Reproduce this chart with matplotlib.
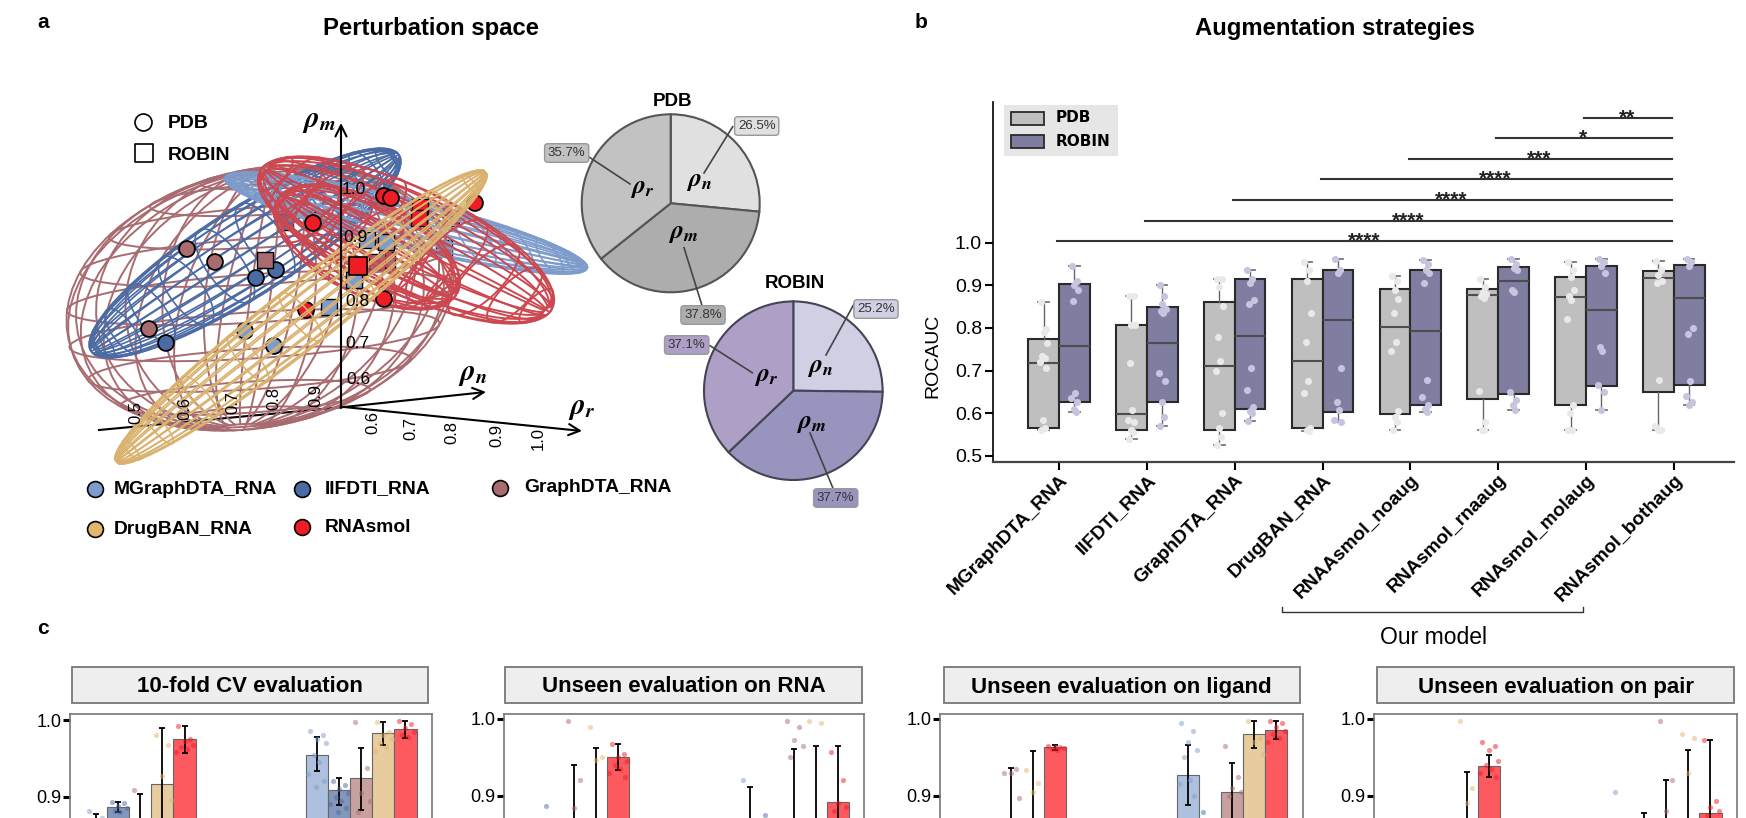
import numpy as np
import matplotlib
matplotlib.use("Agg")
import matplotlib.pyplot as plt
from matplotlib.patches import Rectangle

plt.rcParams['font.family'] = ['Liberation Sans', 'DejaVu Sans']
plt.rcParams['mathtext.fontset'] = 'stix'

W, H = 1746, 818

# panel a: ellipsoids, read in figure pixels: centre, two side axes, then the pole axis
models = ['MGraphDTA_RNA', 'IIFDTI_RNA', 'GraphDTA_RNA', 'DrugBAN_RNA', 'RNAsmol']
model_colors = ['#7d9ccb', '#4b6ba5', '#a86b70', '#e3b66f', '#ee1c25']
ell_brown = [(260, 298), (191, -16), (19, -130), (30, 22)]
ell_dark = [(245, 253), (26, 36), (153, -98), (-15, 10)]
ell_light = [(406, 223), (-20, -28), (180, 42), (10, -8)]
ell_red1 = [(406, 240), (40, -40), (142, 72), (15, 15)]
ell_red2 = [(367, 247), (35, -35), (85, 50), (15, 15)]
ell_tan = [(301, 317), (20, 24), (185, -145), (8, -5)]

# points of panel a
circ_x = [187, 215, 149, 256, 276, 166, 245, 274, 384, 391, 475, 384, 306, 313]
circ_y = [249, 262, 329, 278, 270, 343, 331, 346, 196, 198, 203, 299, 310, 223]
circ_c = [2, 2, 2, 1, 1, 1, 0, 0, 4, 4, 4, 4, 4, 4]
sq_x = [265, 420, 419, 329, 354, 367, 386]
sq_y = [260, 207, 218, 307, 280, 240, 242]
sq_c = [2, 4, 4, 0, 0, 0, 0]
# squares that the wire frames cover
under_x = [285, 312, 359, 451, 387, 444, 377]
under_y = [222, 220, 266, 218, 260, 248, 262]
under_c = [2, 2, 4, 4, 2, 2, 2]
top_x = [358]
top_y = [266]

pie_pdb = [26.5, 37.8, 35.7]
pie_robin = [25.2, 37.7, 37.1]
pie_pdb_colors = ['#e0e0e0', '#adadad', '#c2c2c2']
pie_robin_colors = ['#cfd0e3', '#9794bd', '#ae9fc6']

# panel b
box_names = ['MGraphDTA_RNA', 'IIFDTI_RNA', 'GraphDTA_RNA', 'DrugBAN_RNA',
             'RNAAsmol_noaug', 'RNAsmol_rnaaug', 'RNAsmol_molaug', 'RNAsmol_bothaug']
pdb_q1 = [.565, .56, .56, .565, .598, .633, .618, .65]
pdb_med = [.718, .598, .71, .722, .801, .877, .872, .918]
pdb_q3 = [.775, .808, .861, .916, .891, .891, .92, .933]
pdb_lo = [.56, .54, .525, .558, .56, .56, .56, .56]
pdb_hi = [.862, .875, .915, .955, .922, .916, .955, .958]
rob_q1 = [.625, .625, .61, .602, .618, .645, .664, .665]
rob_med = [.757, .764, .781, .819, .792, .911, .843, .87]
rob_q3 = [.904, .85, .914, .936, .936, .943, .945, .948]
rob_lo = [.602, .57, .582, .58, .602, .608, .608, .62]
rob_hi = [.945, .9, .935, .962, .96, .962, .962, .962]
pdb_pts = [[.862, .798, .79, .765, .735, .73, .72, .705, .585, .565, .56],
           [.875, .875, .808, .808, .718, .607, .585, .58, .56, .555, .54],
           [.915, .915, .895, .851, .778, .722, .698, .6, .565, .545, .525],
           [.955, .935, .91, .836, .766, .675, .648, .565, .56, .558],
           [.922, .91, .89, .867, .834, .767, .745, .605, .59, .58, .56],
           [.916, .895, .885, .88, .875, .87, .652, .58, .56, .56],
           [.955, .935, .92, .89, .875, .865, .82, .62, .6, .56, .56],
           [.958, .935, .925, .91, .905, .677, .57, .56, .56]]
rob_pts = [[.945, .91, .9, .89, .864, .648, .635, .625, .61, .602],
           [.9, .875, .855, .845, .84, .835, .695, .675, .625, .59, .57],
           [.935, .915, .905, .865, .855, .705, .655, .615, .605, .6, .582],
           [.962, .935, .93, .705, .625, .607, .585, .58],
           [.96, .95, .935, .93, .905, .678, .638, .62, .61, .602],
           [.962, .95, .94, .935, .89, .885, .65, .63, .62, .608],
           [.962, .955, .945, .93, .755, .745, .665, .65, .608],
           [.962, .955, .945, .8, .785, .675, .64, .625, .62]]
sig_y = [1.003, 1.052, 1.1, 1.149, 1.196, 1.245, 1.293]
sig_txt = ['****', '****', '****', '****', '***', '*', '**']

# panel c: two groups of five bars, cut by the lower edge of the picture
c_titles = ['10-fold CV evaluation', 'Unseen evaluation on RNA',
            'Unseen evaluation on ligand', 'Unseen evaluation on pair']
c_means = [[[.855, .887, .84, .917, .975], [.955, .909, .924, .983, .988]],
           [[.80, .82, .85, .86, .951], [.85, .82, .86, .87, .892]],
           [[.80, .80, .85, .86, .963], [.927, .85, .905, .98, .986]],
           [[.78, .80, .80, .85, .939], [.80, .84, .85, .87, .877]]]
c_hi = [[[.877, .893, .904, .989, .992], [.978, .924, .964, .998, .999]],
        [[.86, .85, .94, .962, .968], [.911, .86, .961, .965, .965]],
        [[.85, .85, .936, .958, .966], [.966, .87, .943, .997, .998]],
        [[.84, .86, .86, .931, .953], [.86, .878, .92, .96, .973]]]
c_lo = [[[.83, .88, .78, .85, .957], [.933, .889, .883, .967, .977]],
        [[.74, .79, .76, .76, .934], [.79, .78, .76, .77, .82]],
        [[.75, .75, .76, .76, .960], [.888, .83, .867, .962, .974]],
        [[.72, .74, .74, .77, .925], [.74, .80, .78, .78, .78]]]
c_pts = [[[[.881, .872], [.893, .892, .888, .885, .882, .88], [.909], [.98, .967, .927, .896],
           [.992, .975, .972, .968, .965, .962, .958]],
          [[.986, .98, .975, .97, .955, .945, .93, .92, .912], [.92, .915, .91, .905, .9, .895, .89, .885, .88],
           [.998, .938, .905, .895, .88], [.998, .985, .98, .975, .97, .965, .96],
           [.999, .995, .99, .985, .98, .978]]],
         [[[], [.886], [.997, .92, .884], [.99, .951, .947], [.968, .955, .95, .945, .94, .935, .93, .925]],
          [[.92], [.875], [.997, .99, .972, .965, .951], [.997, .995], [.957, .92, .89, .885, .88]]],
         [[[], [], [.93, .935, .93, .897], [.933, .916, .905], [.965, .964, .963, .962, .961, .96]],
          [[.995, .985, .97, .96, .95, .92, .915, .9], [.879], [.965, .925, .91, .905, .9],
           [.998, .975, .97, .955], [.998, .995, .99, .985, .98, .975, .97]]],
         [[[], [], [], [.998, .91, .89], [.97, .965, .96, .945, .94, .935, .93, .925]],
          [[.905], [], [.998, .92, .88], [.98, .975, .93], [.973, .893, .885, .88, .875]]]]
c_bar_colors = ['#adc1df', '#8497bb', '#c9a0a0', '#e8cb9e', '#fd5a60']
c_pt_colors = ['#7d9ccb', '#4b6ba5', '#a86b70', '#e3b66f', '#ee1c25']
jitter = [-.3, .25, 0, .4, -.15, .1, -.4, .3, -.05, .18, -.25]


def px_axes(fig, left, top, right, bottom):
    return fig.add_axes([left / W, 1 - bottom / H, (right - left) / W, (bottom - top) / H])


def wire(ax, ell, color, z, lw=1.2, n_lat=13, n_lon=22):
    c, a, b, d = [np.array(v, dtype=float) for v in ell]
    for t in np.linspace(0.12, np.pi - 0.12, n_lat):
        p = np.linspace(0, 2 * np.pi, 50)
        xy = np.outer(np.sin(t) * np.cos(p), a) + np.outer(np.sin(t) * np.sin(p), d) + np.outer(np.cos(t) * np.ones(50), b)
        ax.plot(c[0] + xy[:, 0], c[1] + xy[:, 1], color=color, lw=lw, zorder=z)
    for p in np.linspace(0, 2 * np.pi, n_lon, endpoint=False):
        t = np.linspace(0.12, np.pi - 0.12, 30)
        xy = np.outer(np.sin(t) * np.cos(p), a) + np.outer(np.sin(t) * np.sin(p), d) + np.outer(np.cos(t), b)
        ax.plot(c[0] + xy[:, 0], c[1] + xy[:, 1], color=color, lw=lw, zorder=z)


def rho(s):
    return r'$\boldsymbol{\rho}_{\boldsymbol{%s}}$' % s


fig = plt.figure(figsize=(W / 100, H / 100), dpi=100)
ov = fig.add_axes([0, 0, 1, 1])
ov.set_xlim(0, W)
ov.set_ylim(H, 0)
ov.axis('off')

ov.text(43, 22, 'a', fontsize=15, fontweight='bold', ha='center', va='center')
ov.text(921, 22, 'b', fontsize=15, fontweight='bold', ha='center', va='center')
ov.text(43, 628, 'c', fontsize=15, fontweight='bold', ha='center', va='center')
ov.text(431, 29, 'Perturbation space', fontsize=17.2, fontweight='bold', ha='center', va='center')
ov.text(1335, 29, 'Augmentation strategies', fontsize=17.2, fontweight='bold', ha='center', va='center')

# panel a
ov.scatter(under_x, under_y, s=130, marker='s', c=[model_colors[i] for i in under_c], edgecolors='k', linewidths=1.0, zorder=1.5)
wire(ov, ell_brown, '#a86b70', 2, lw=1.4, n_lat=11, n_lon=26)
wire(ov, ell_dark, '#4b6ba5', 2, n_lat=12, n_lon=24)
wire(ov, ell_light, '#7d9ccb', 2, n_lat=12, n_lon=24)
wire(ov, ell_red1, '#cc4750', 2, lw=1.4, n_lat=11, n_lon=18)
wire(ov, ell_red2, '#cc4750', 2, lw=1.4, n_lat=9, n_lon=16)
ov.scatter(circ_x, circ_y, s=130, c=[model_colors[i] for i in circ_c], edgecolors='k', linewidths=1.3, zorder=3)
ov.scatter(sq_x, sq_y, s=130, marker='s', c=[model_colors[i] for i in sq_c], edgecolors='k', linewidths=1.0, zorder=3)
wire(ov, ell_tan, '#d9b26f', 4, n_lat=11, n_lon=20)
ov.scatter(top_x, top_y, s=170, marker='s', c='#ee1c25', edgecolors='k', linewidths=1.2, zorder=5)

arrow = dict(arrowstyle='->', color='k', lw=1.5, mutation_scale=20, shrinkA=0, shrinkB=0)
ov.annotate('', xy=(341, 123), xytext=(341, 408), arrowprops=arrow, zorder=6)
ov.annotate('', xy=(486, 392), xytext=(344, 407), arrowprops=arrow, zorder=6)
ov.annotate('', xy=(582, 431), xytext=(344, 407), arrowprops=arrow, zorder=6)
ov.plot([99, 344], [430, 407], color='k', lw=1.5, zorder=1)
for s, x, y in zip(['0.5', '0.6', '0.7', '0.8', '0.9'], [136, 185, 233, 274, 316], [413, 408, 402, 398, 395]):
    ov.text(x, y, s, fontsize=12, rotation=90, ha='center', va='center', zorder=7)
for s, x, y in zip(['0.6', '0.7', '0.8', '0.9', '1.0'], [373, 411, 452, 497, 538], [423, 428, 432, 435, 438]):
    ov.text(x, y, s, fontsize=12, rotation=90, ha='center', va='center', zorder=7)
for s, x, y in zip(['0.6', '0.7', '0.8', '0.9', '1.0'], [358, 357, 357, 356, 354], [380, 343, 302, 238, 190]):
    ov.text(x, y, s, fontsize=12.5, ha='center', va='center', zorder=7)
ov.text(319, 121, rho('m'), fontsize=21, ha='center', va='center')
ov.text(473, 374, rho('n'), fontsize=21, ha='center', va='center')
ov.text(582, 408, rho('r'), fontsize=21, ha='center', va='center')

ov.scatter([142.5], [122], s=150, facecolors='white', edgecolors='k', linewidths=1.2)
ov.scatter([143.5], [153], s=150, marker='s', facecolors='white', edgecolors='k', linewidths=1.2)
ov.text(168, 123, 'PDB', fontsize=14, fontweight='bold', va='center')
ov.text(168, 155, 'ROBIN', fontsize=14, fontweight='bold', va='center')

leg_x = [95, 302, 500, 95, 302]
leg_y = [489, 489, 488, 529, 527]
leg_tx = [114, 325, 524, 114, 325]
for i, x, y, tx in zip(range(5), leg_x, leg_y, leg_tx):
    ov.scatter([x], [y], s=130, c=model_colors[i], edgecolors='k', linewidths=1.2)
    ov.text(tx, y, models[i], fontsize=13.9, fontweight='bold', va='center')

# pies of panel a
for vals, cols, cx, cy, r, title, ty, edge in [
        (pie_pdb, pie_pdb_colors, 670.7, 203.3, 89, 'PDB', 101, '#555555'),
        (pie_robin, pie_robin_colors, 793.3, 390.7, 89.3, 'ROBIN', 283, '#444455')]:
    pa = px_axes(fig, cx - 1.25 * r, cy - 1.25 * r, cx + 1.25 * r, cy + 1.25 * r)
    pa.pie(vals, colors=cols, startangle=90, counterclock=False,
           wedgeprops=dict(edgecolor=edge, linewidth=1.5))
    ov.text(cx + 2, ty, title, fontsize=13.5, fontweight='bold', ha='center', va='center')

ov.set_zorder(5)
pie_lab = [('26.5%', 756.7, 126, 732.7, 126.7, 704, 173, '#e0e0e0'),
           ('35.7%', 566.7, 153, 589, 157, 630, 184, '#c2c2c2'),
           ('37.8%', 703, 315, 702.7, 307.7, 684, 247.7, '#adadad'),
           ('25.2%', 876, 309, 854, 304, 826, 355, '#cfd0e3'),
           ('37.1%', 686.7, 345, 710, 345.7, 752.3, 372.7, '#ae9fc6'),
           ('37.7%', 835.7, 498, 834, 490.7, 810, 433, '#9794bd')]
for s, tx, ty, x0, y0, x1, y1, col in pie_lab:
    ov.plot([x0, x1], [y0, y1], color='#444444', lw=1.2)
    ov.text(tx, ty, s, fontsize=9.5, color='#333333', ha='center', va='center',
            bbox=dict(boxstyle='round,pad=0.25', fc=col, ec='#999999', lw=1))
for s, x, y in [('n', 699, 180.7), ('r', 641.7, 187.7), ('m', 682.7, 232.7),
                ('n', 820, 366.7), ('r', 766, 376), ('m', 810.7, 423)]:
    ov.text(x, y, rho(s), fontsize=18.5, ha='center', va='center')

# panel b
ax = px_axes(fig, 993, 101.7, 1733.5, 461.7)
ax.set_xlim(-.752, 7.68)
ax.set_ylim(.486, 1.331)
pos = np.arange(len(box_names))
for off, q1, med, q3, lo, hi, pts, col, ptc in [
        (-.175, pdb_q1, pdb_med, pdb_q3, pdb_lo, pdb_hi, pdb_pts, '#bfbfbf', '#e9e9e9'),
        (.175, rob_q1, rob_med, rob_q3, rob_lo, rob_hi, rob_pts, '#7f7da0', '#c6c4df')]:
    stats = [dict(q1=q1[i], med=med[i], q3=q3[i], whislo=lo[i], whishi=hi[i], fliers=[]) for i in pos]
    ax.bxp(stats, positions=pos + off, widths=.35, patch_artist=True, showfliers=False, manage_ticks=False,
           boxprops=dict(facecolor=col, edgecolor='#2a2a2a', linewidth=1.5),
           medianprops=dict(color='#4d4d4d', linewidth=1.5),
           whiskerprops=dict(color='#666666', linewidth=1),
           capprops=dict(color='#777777', linewidth=1.3), capwidths=.12)
    for i in pos:
        xs = [i + off + .1 * jitter[j % len(jitter)] for j in range(len(pts[i]))]
        ax.scatter(xs, pts[i], s=26, color=ptc, zorder=5, linewidths=0)
for i, y, s in zip(range(7), sig_y, sig_txt):
    ax.plot([i - .02, 6.98], [y, y], color='#333333', lw=1.5)
    ax.text((i + 7) / 2 - .03, y - .022, s, fontsize=15, fontweight='bold', ha='center', va='bottom', color='#222222')
ax.set_yticks([.5, .6, .7, .8, .9, 1.0])
ax.set_xticks(pos)
ax.set_xticklabels(box_names, rotation=45, ha='right', rotation_mode='anchor', fontsize=13.8, fontweight='bold')
ax.tick_params(axis='y', labelsize=14, width=1.5, length=6, pad=2)
ax.tick_params(axis='x', width=1.5, length=6, pad=1)
ax.set_ylabel('ROCAUC', fontsize=14)
ax.yaxis.set_label_coords(-.07, .293)
ax.spines[['top', 'right']].set_visible(False)
ax.spines['left'].set_linewidth(1.2)
ax.spines['bottom'].set_linewidth(1.6)
ax.spines['bottom'].set_color('#444444')
ov.add_patch(Rectangle((1004, 105), 114, 51, fc='#e6e6e6', ec='none', zorder=7))
for y, col, s in [(118, '#bfbfbf', 'PDB'), (141, '#7f7da0', 'ROBIN')]:
    ov.add_patch(Rectangle((1011, y - 6.5), 33, 13, fc=col, ec='#2a2a2a', lw=1.3, zorder=8))
    ov.text(1056, y, s, family=['DejaVu Sans'], fontsize=11, fontweight='bold', va='center', zorder=8)
ov.plot([1282, 1282, 1583, 1583], [607, 612, 612, 607], color='#333333', lw=1)
ov.text(1433, 637, 'Our model', fontsize=16.5, ha='center', va='center')

# panel c
c_frames = [(69.6, 432, 720), (504, 864, 719), (939.6, 1303, 719), (1374, 1737, 719)]
c_boxes = [(72, 428), (505, 862), (943.5, 1300), (1377, 1734)]
for p, (left, right, y1) in enumerate(c_frames):
    axc = px_axes(fig, left, 714, right, H)
    axc.set_xlim(-.32, 1.32)
    axc.set_ylim(1 - (H - y1) / 767, 1 + (y1 - 714) / 767)
    for g in range(2):
        for b in range(5):
            x = g + (b - 2) * .1
            axc.bar(x, c_means[p][g][b], .1, color=c_bar_colors[b], edgecolor='#666666', lw=.8)
            m = c_means[p][g][b]
            axc.errorbar(x, m, yerr=[[m - c_lo[p][g][b]], [c_hi[p][g][b] - m]], color='k', lw=1.3,
                         capsize=2.5, capthick=1.3, zorder=4)
            xs = [x + .1 * jitter[j % len(jitter)] for j in range(len(c_pts[p][g][b]))]
            axc.scatter(xs, c_pts[p][g][b], s=14, color=c_pt_colors[b], alpha=.5, linewidths=0, zorder=5)
    axc.set_yticks([.9, 1.0])
    axc.set_xticks([])
    axc.tick_params(axis='y', labelsize=13, width=2.2, length=5, pad=1)
    axc.spines['bottom'].set_visible(False)
    axc.spines[['top', 'left', 'right']].set_color('#777777')
    axc.spines[['top', 'left', 'right']].set_linewidth(1.2)
    ov.add_patch(Rectangle((c_boxes[p][0], 667), c_boxes[p][1] - c_boxes[p][0], 36,
                           fc='#eeeeee', ec='#777777', lw=1.3))
    ov.text(sum(c_boxes[p]) / 2, 687, c_titles[p], fontsize=16, fontweight='bold', ha='center', va='center')

fig.savefig('out.png', dpi=100)
